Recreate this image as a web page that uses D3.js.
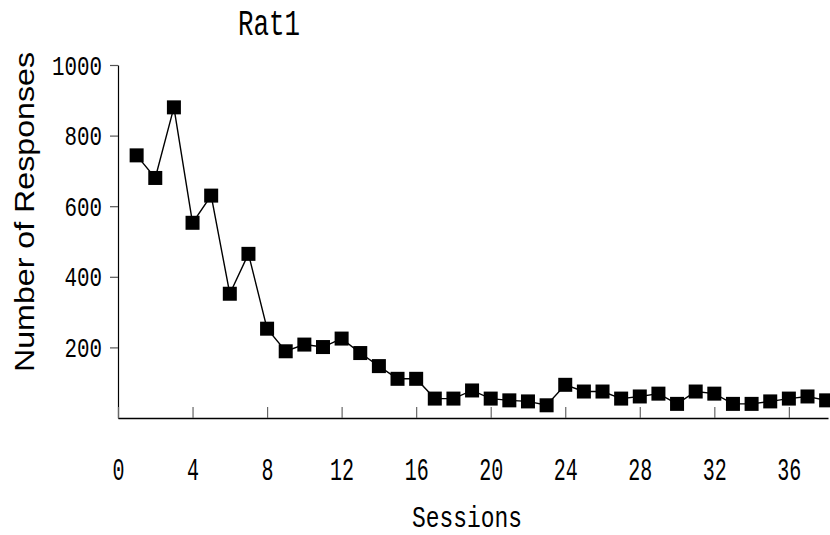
<!DOCTYPE html>
<html>
<head>
<meta charset="utf-8">
<script src="https://cdn.jsdelivr.net/npm/d3@7/dist/d3.min.js"></script>
<style>
  body { margin: 0; background: #fff; }
  svg { display: block; }
</style>
</head>
<body>
<div id="chart"></div>
<script>
// session numbers and response counts
var sessions = [1, 2, 3, 4, 5, 6, 7, 8, 9, 10, 11, 12, 13, 14, 15, 16, 17, 18, 19,
                20, 21, 22, 23, 24, 25, 26, 27, 28, 29, 30, 31, 32, 33, 34, 35, 36, 37, 38];
var responses = [744, 680, 880, 553, 630, 352, 465, 253, 189, 208, 201, 225, 184, 147, 111, 111, 55, 55, 78,
                 55, 50, 47, 36, 94, 75, 75, 55, 61, 69, 40, 75, 69, 40, 40, 47, 55, 61, 50];
var xTicks = [0, 4, 8, 12, 16, 20, 24, 28, 32, 36];
var yTicks = [200, 400, 600, 800, 1000];
var chartTitle = "Rat1";
var xTitle = "Sessions";
var yTitle = "Number of Responses";

var width = 830, height = 535;
var gothic = "'Liberation Mono', 'DejaVu Sans Mono', monospace";

var svg = d3.select("#chart").append("svg")
    .attr("width", width)
    .attr("height", height);

var x = d3.scaleLinear().domain([0, 38.1]).range([118, 828]);
var y = d3.scaleLinear().domain([0, 1000]).range([418, 65]);

// y axis
var yAxis = svg.append("g")
    .attr("transform", "translate(118,0)")
    .call(d3.axisLeft(y).tickValues(yTicks).tickFormat(d3.format("d"))
        .tickSize(8).tickSizeOuter(0).tickPadding(8));
yAxis.select(".domain").attr("stroke", "#000").attr("stroke-width", 1.2);
yAxis.selectAll(".tick line").attr("stroke", "#555").attr("stroke-width", 1.2);
yAxis.selectAll(".tick text")
    .attr("font-family", gothic)
    .attr("font-size", 27)
    .attr("fill", "#000")
    .attr("dy", "0.34em")
    .attr("textLength", function(d) { return String(d).length * 12.5; })
    .attr("lengthAdjust", "spacingAndGlyphs");

// x axis, ticks point up into the plot
var xAxis = svg.append("g")
    .attr("transform", "translate(0,418)")
    .call(d3.axisBottom(x).tickValues(xTicks).tickSize(-11).tickSizeOuter(0));
xAxis.select(".domain").attr("stroke", "#000").attr("stroke-width", 1.5);
xAxis.selectAll(".tick line").attr("stroke", "#666").attr("stroke-width", 1.2);
xAxis.selectAll(".tick text")
    .attr("font-family", gothic)
    .attr("font-size", 32)
    .attr("fill", "#000")
    .attr("y", 62)
    .attr("dy", null)
    .attr("textLength", function(d) { return String(d).length * 12; })
    .attr("lengthAdjust", "spacingAndGlyphs");

// line + square markers
var pts = sessions.map(function(s, i) { return { s: s, v: responses[i] }; });

svg.append("path")
    .datum(pts)
    .attr("fill", "none")
    .attr("stroke", "#000")
    .attr("stroke-width", 1.4)
    .attr("d", d3.line()
        .x(function(d) { return x(d.s); })
        .y(function(d) { return y(d.v); }));

var sz = 14;
svg.append("g").selectAll("rect")
    .data(pts)
    .enter().append("rect")
    .attr("x", function(d) { return x(d.s) - sz / 2; })
    .attr("y", function(d) { return y(d.v) - sz / 2; })
    .attr("width", sz)
    .attr("height", sz)
    .attr("fill", "#000");

// titles
svg.append("text")
    .attr("x", 269).attr("y", 35)
    .attr("text-anchor", "middle")
    .attr("font-family", gothic)
    .attr("font-size", 36)
    .attr("textLength", 62)
    .attr("lengthAdjust", "spacingAndGlyphs")
    .text(chartTitle);

svg.append("text")
    .attr("x", 467).attr("y", 527)
    .attr("text-anchor", "middle")
    .attr("font-family", gothic)
    .attr("font-size", 29)
    .attr("textLength", 110)
    .attr("lengthAdjust", "spacingAndGlyphs")
    .text(xTitle);

svg.append("text")
    .attr("transform", "translate(34,212) rotate(-90)")
    .attr("text-anchor", "middle")
    .attr("font-family", "'Liberation Sans', Arial, sans-serif")
    .attr("font-size", 28)
    .attr("textLength", 320)
    .attr("lengthAdjust", "spacingAndGlyphs")
    .text(yTitle);
</script>
</body>
</html>
